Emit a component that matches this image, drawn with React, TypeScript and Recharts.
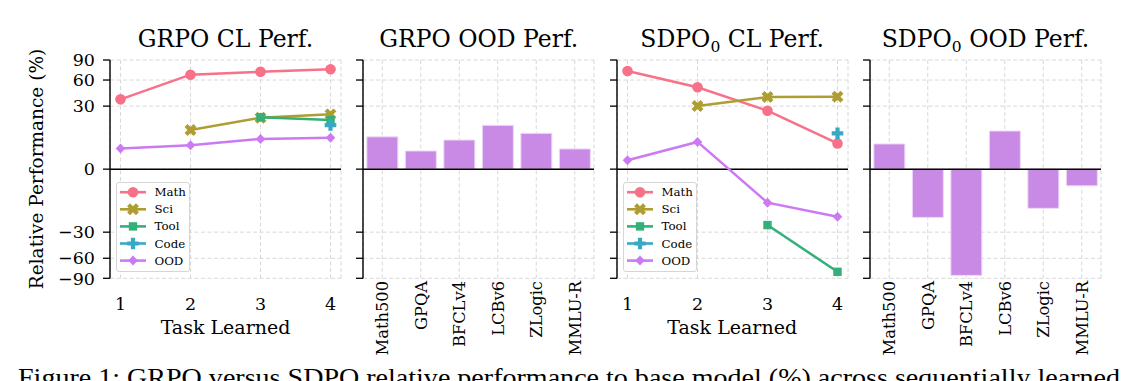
import React from 'react';
import { LineChart, Line, BarChart, Bar, XAxis, YAxis, CartesianGrid, ReferenceLine } from 'recharts';

// ---------- data ----------
const tasks = [1, 2, 3, 4];
const grpoMath = [36.8, 67.4, 71.7, 75.3];
const grpoSci = [null, 11.6, 20.0, 22.7];
const grpoTool = [null, null, 20.3, 18.2];
const grpoCode = [null, null, null, 14.7];
const grpoOOD = [3.2, 4.3, 6.9, 7.5];

const sdpoMath = [72.8, 50.6, 25.8, 5.0];
const sdpoSci = [null, 30.1, 39.3, 39.6];
const sdpoTool = [null, null, -23.6, -79.6];
const sdpoCode = [null, null, null, 9.7];
const sdpoOOD = [0.6, 5.6, -8.5, -17.1];

const benchmarks = ['Math500', 'GPQA', 'BFCLv4', 'LCBv6', 'ZLogic', 'MMLU-R'];
const grpoBench = [7.9, 2.5, 6.4, 14.5, 9.7, 3.1];
const sdpoBench = [4.8, -17.6, -85.3, 11.0, -11.6, -2.1];

const yTickLabels = [-90, -60, -30, 0, 30, 60, 90];
const seriesNames = ['Math', 'Sci', 'Tool', 'Code', 'OOD'];
const seriesColors = ['#f77189', '#ae9d31', '#33b07a', '#38a9c5', '#cc7af4'];
const seriesShapes = ['circle', 'x', 'square', 'plus', 'diamond'];

// ---------- helpers ----------
const FONT = '"DejaVu Serif", serif';
const H = 381;
const tr = (v: number | null) => (v == null ? null : Math.sign(v) * Math.sqrt(Math.abs(v)));
const inv = (v: number) => Math.sign(v) * v * v;
const S90 = Math.sqrt(90);
const yTicksT = yTickLabels.map((v) => tr(v) as number);
const fmtY = (v: number) => {
  const r = Math.round(inv(v));
  return r < 0 ? '\u2212' + Math.abs(r) : String(r);
};

const buildRows = (cols: (number | null)[][]) =>
  tasks.map((task, i) => {
    const row: any = { task };
    seriesNames.forEach((n, k) => (row[n] = tr(cols[k][i])));
    return row;
  });

const grpoRows = buildRows([grpoMath, grpoSci, grpoTool, grpoCode, grpoOOD]);
const sdpoRows = buildRows([sdpoMath, sdpoSci, sdpoTool, sdpoCode, sdpoOOD]);
const grpoBars = benchmarks.map((name, i) => ({ name, value: tr(grpoBench[i]) }));
const sdpoBars = benchmarks.map((name, i) => ({ name, value: tr(sdpoBench[i]) }));

function plusPts(x: number, y: number, a: number, b: number, angDeg: number) {
  const base = [
    [-b, -a], [b, -a], [b, -b], [a, -b], [a, b], [b, b],
    [b, a], [-b, a], [-b, b], [-a, b], [-a, -b], [-b, -b],
  ];
  const t = (angDeg * Math.PI) / 180;
  const c = Math.cos(t), s = Math.sin(t);
  return base.map(([px, py]) => `${x + px * c - py * s},${y + px * s + py * c}`).join(' ');
}

function Marker({ shape, x, y, color }: { shape: string; x: number; y: number; color: string }) {
  switch (shape) {
    case 'circle':
      return <circle cx={x} cy={y} r={5.3} fill={color} />;
    case 'x':
      return <polygon points={plusPts(x, y, 6.3, 2.1, 45)} fill={color} />;
    case 'square':
      return <rect x={x - 4.2} y={y - 4.2} width={8.4} height={8.4} fill={color} />;
    case 'plus':
      return <polygon points={plusPts(x, y, 5.8, 2.1, 0)} fill={color} />;
    default:
      return <polygon points={`${x},${y - 5} ${x + 4.8},${y} ${x},${y + 5} ${x - 4.8},${y}`} fill={color} />;
  }
}

const makeDot = (shape: string, color: string) => (props: any) => {
  const { cx, cy, value, index } = props;
  if (cx == null || cy == null || value == null || Number.isNaN(cy)) return <g key={`d${index}`} />;
  return (
    <g key={`d${index}`}>
      <Marker shape={shape} x={cx} y={cy} color={color} />
    </g>
  );
};

function LegendBox({ left }: { left: number }) {
  return (
    <div
      style={{
        position: 'absolute',
        left,
        top: 181.5,
        width: 74,
        height: 90,
        border: '1px solid #d6d6d6',
        borderRadius: 3,
        background: 'rgba(255,255,255,0.85)',
        boxSizing: 'border-box',
      }}
    >
      <svg width={74} height={90} style={{ position: 'absolute', left: -1, top: -1 }}>
        {seriesNames.map((n, i) => {
          const cy = 10.2 + i * 17.1;
          return (
            <g key={n}>
              <line x1={4} x2={30} y1={cy} y2={cy} stroke={seriesColors[i]} strokeWidth={2.6} />
              <Marker shape={seriesShapes[i]} x={17} y={cy} color={seriesColors[i]} />
              <text x={38.5} y={cy + 4} fontSize={11.8} fontFamily={FONT} fill="#000">
                {n}
              </text>
            </g>
          );
        })}
      </svg>
    </div>
  );
}

const gridProps = { stroke: '#d4d4d4', strokeDasharray: '4 2.5', strokeWidth: 0.9 };
const axisLineProps = { stroke: '#000', strokeWidth: 1.4 };

function LinePanel({ left, width, yw, mr, data, labels }: any) {
  return (
    <div style={{ position: 'absolute', left, top: 0 }}>
      <LineChart width={width} height={H} data={data} margin={{ top: 60, right: mr, bottom: 0, left: 0 }}>
        <CartesianGrid {...gridProps} />
        <XAxis
          type="number"
          dataKey="task"
          domain={[0.85, 4.15]}
          ticks={tasks}
          allowDataOverflow
          axisLine={false}
          tickLine={false}
          tickSize={7}
          tickMargin={12}
          height={102.7}
          tick={{ fill: '#000', fontSize: 17.5, fontFamily: FONT }}
        />
        <YAxis
          type="number"
          domain={[-S90, S90]}
          ticks={yTicksT}
          allowDataOverflow
          width={yw}
          axisLine={axisLineProps}
          tickLine={{ stroke: '#000', strokeWidth: 1.3 }}
          tickSize={7}
          tickMargin={8}
          tickFormatter={labels ? fmtY : () => ''}
          tick={{ fill: '#000', fontSize: 17.5, fontFamily: FONT }}
          interval={0}
        />
        <ReferenceLine y={0} stroke="#000" strokeWidth={1.5} />
        {seriesNames.map((n, i) => (
          <Line
            key={n}
            dataKey={n}
            type="linear"
            stroke={seriesColors[i]}
            strokeWidth={2.5}
            dot={makeDot(seriesShapes[i], seriesColors[i])}
            activeDot={false}
            connectNulls={false}
            isAnimationActive={false}
          />
        ))}
      </LineChart>
    </div>
  );
}

const CatTick = (props: any) => {
  const { x, payload } = props;
  return (
    <text
      transform={`translate(${x},281) rotate(-90)`}
      textAnchor="end"
      dy="0.36em"
      fontSize={16.3}
      fontFamily={FONT}
      fill="#000"
    >
      {payload.value}
    </text>
  );
};

function BarPanel({ left, width, yw, mr, data }: any) {
  return (
    <div style={{ position: 'absolute', left, top: 0 }}>
      <BarChart
        width={width}
        height={H}
        data={data}
        margin={{ top: 60, right: mr, bottom: 0, left: 0 }}
        barCategoryGap="10%"
      >
        <CartesianGrid {...gridProps} />
        <XAxis
          type="category"
          dataKey="name"
          axisLine={false}
          tickLine={false}
          height={102.7}
          interval={0}
          tick={<CatTick />}
        />
        <YAxis
          type="number"
          domain={[-S90, S90]}
          ticks={yTicksT}
          allowDataOverflow
          width={yw}
          axisLine={axisLineProps}
          tickLine={{ stroke: '#000', strokeWidth: 1.3 }}
          tickSize={7}
          tickFormatter={() => ''}
          interval={0}
        />
        <Bar dataKey="value" fill="#c88ae4" stroke="#eedaf6" strokeWidth={1} isAnimationActive={false} />
        <ReferenceLine y={0} stroke="#000" strokeWidth={1.5} />
      </BarChart>
    </div>
  );
}

function Title({ x, main, sub, rest }: { x: number; main: string; sub?: string; rest: string }) {
  return (
    <text x={x} y={47} textAnchor="middle" fontSize={23.5} fontFamily={FONT} fill="#000">
      {main}
      {sub ? (
        <tspan fontSize={15.5} dy={5}>
          {sub}
        </tspan>
      ) : null}
      <tspan dy={sub ? -5 : 0}>{rest}</tspan>
    </text>
  );
}

export default function App() {
  return (
    <div
      style={{
        position: 'absolute',
        left: 0,
        top: 0,
        width: 1128,
        height: 381,
        background: '#fff',
        overflow: 'hidden',
      }}
    >
      <LinePanel left={0} width={350} yw={110} mr={9} data={grpoRows} labels />
      <BarPanel left={333.3} width={266} yw={30} mr={5} data={grpoBars} />
      <LinePanel left={586.7} width={266} yw={30} mr={5} data={sdpoRows} labels={false} />
      <BarPanel left={840} width={266} yw={30} mr={5} data={sdpoBars} />
      <LegendBox left={116} />
      <LegendBox left={622.5} />
      <svg
        width={1128}
        height={381}
        style={{ position: 'absolute', left: 0, top: 0, pointerEvents: 'none' }}
      >
        <Title x={225.5} main="GRPO CL Perf." rest="" />
        <Title x={478.8} main="GRPO OOD Perf." rest="" />
        <Title x={732.2} main="SDPO" sub="0" rest=" CL Perf." />
        <Title x={985.5} main="SDPO" sub="0" rest=" OOD Perf." />
        <text
          transform="translate(43,169) rotate(-90)"
          textAnchor="middle"
          fontSize={18.5}
          fontFamily={FONT}
          fill="#000"
        >
          Relative Performance (%)
        </text>
        <text x={225.5} y={334.3} textAnchor="middle" fontSize={19} fontFamily={FONT} fill="#000">
          Task Learned
        </text>
        <text x={732.2} y={334.3} textAnchor="middle" fontSize={19} fontFamily={FONT} fill="#000">
          Task Learned
        </text>
        <text
          x={18}
          y={386}
          fontSize={26}
          fontFamily='"Liberation Serif", "Times New Roman", serif'
          fill="#000"
          textLength={1102}
          lengthAdjust="spacingAndGlyphs"
        >
          Figure 1: GRPO versus SDPO relative performance to base model (%) across sequentially learned
        </text>
      </svg>
    </div>
  );
}
